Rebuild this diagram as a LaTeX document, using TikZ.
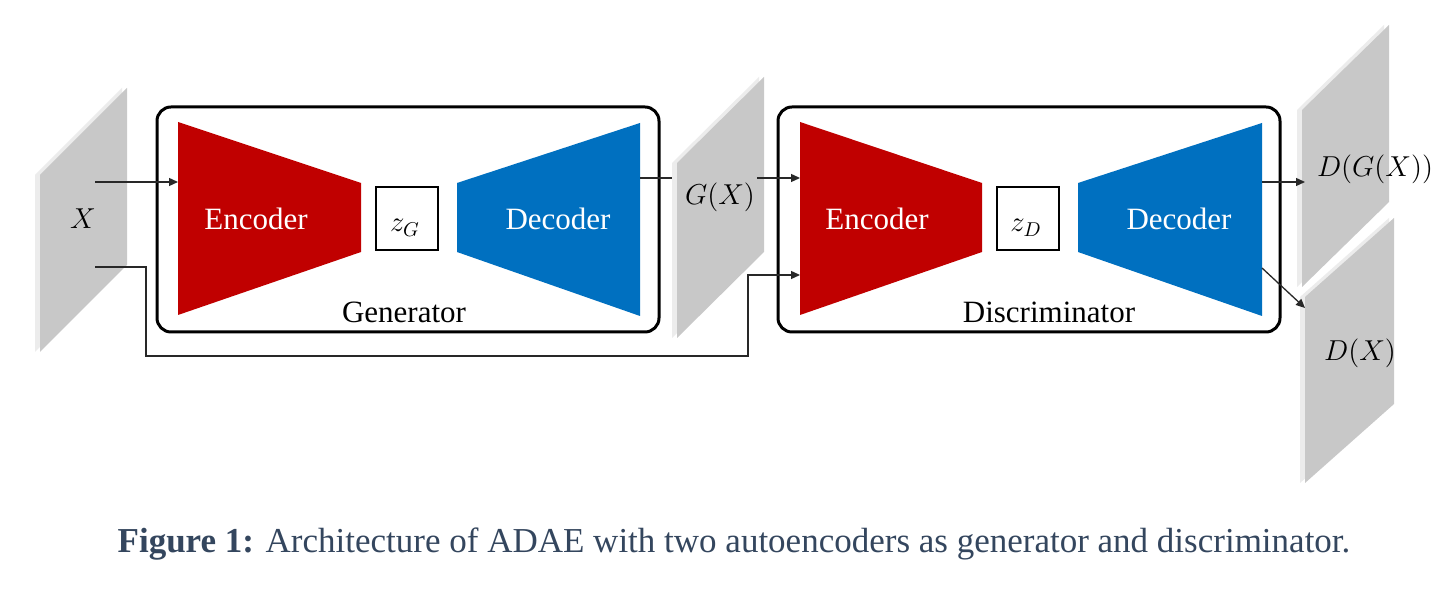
\documentclass[tikz,border=0pt]{standalone}
\usepackage{fontspec}
\setmainfont{Liberation Serif}
\usetikzlibrary{arrows.meta}

\definecolor{encred}{RGB}{192,0,0}
\definecolor{decblue}{RGB}{0,112,192}
\definecolor{planegray}{RGB}{200,200,200}
\definecolor{planeedge}{RGB}{236,236,236}
\definecolor{linegray}{RGB}{40,40,40}
\definecolor{captioncol}{RGB}{52,70,94}

% a slanted data plane: top-left corner (#1,#2), width #3, rise #4, height #5
\newcommand\aeplane[5]{%
  \fill[planeedge] (#1-5,#2) -- ++(#3,-#4) -- ++(0,#5) -- ++(-#3,#4) -- cycle;
  \fill[planegray] (#1,#2) -- ++(#3,-#4) -- ++(0,#5) -- ++(-#3,#4) -- cycle;
}

\begin{document}
\begin{tikzpicture}[x=0.5pt,y=-0.5pt,
  aebox/.style={draw=black,line width=1.5pt,rounded corners=7pt,minimum width=251pt,minimum height=112.5pt,inner sep=0pt},
  zbox/.style={draw=black,line width=0.9pt,minimum width=31pt,minimum height=31.5pt,inner sep=0pt},
  blocklabel/.style={text=white,font=\fontsize{15.5}{18}\selectfont,anchor=base,inner sep=0pt},
  boxlabel/.style={font=\fontsize{15.5}{18}\selectfont,anchor=base,inner sep=0pt},
  mathlabel/.style={font=\fontsize{14}{17}\selectfont,anchor=base,inner sep=0pt},
  conn/.style={draw=linegray,line width=0.65pt},
  arr/.style={conn,-{Triangle[length=4.5pt,width=4pt]}}]

\useasboundingbox (0,0) rectangle (1452,613);
\fill[white] (0,0) rectangle (1452,613);

% data planes
\aeplane{40}{175}{87}{87}{177}
\aeplane{677}{163}{87}{86}{175}
\aeplane{1302}{110}{87}{85}{177}
\aeplane{1305}{297}{89}{79}{186}

% generator and discriminator frames
\node[aebox] (gen) at (408,219.5) {};
\node[aebox] (disc) at (1029,219.5) {};

% generator autoencoder
\fill[encred] (178,122) -- (361,183) -- (361,252) -- (178,315) -- cycle;
\fill[decblue] (457,183) -- (640,123) -- (640,316) -- (457,252) -- cycle;
\node[zbox] (zg) at (407,218.5) {};
% discriminator autoencoder
\fill[encred] (800,122) -- (982,183) -- (982,252) -- (800,315) -- cycle;
\fill[decblue] (1078,183) -- (1262,123) -- (1262,316) -- (1078,252) -- cycle;
\node[zbox] (zd) at (1028,218.5) {};

% texts
\node[blocklabel] (encg) at (256,230) {Encoder};
\node[blocklabel] (decg) at (558,230) {Decoder};
\node[blocklabel] (encd) at (877,230) {Encoder};
\node[blocklabel] (decd) at (1179,230) {Decoder};
\node[mathlabel] (zgl) at (405,232) {$z_G$};
\node[mathlabel] (zdl) at (1026,232) {$z_D$};
\node[boxlabel] (genl) at (404,323) {Generator};
\node[boxlabel] (discl) at (1049,323) {Discriminator};
\node[mathlabel] (xl) at (83,229) {$X$};
\node[mathlabel] (gxl) at (720,205) {$G(X)$};
\node[mathlabel] (dgxl) at (1375,177) {$D(G(X))$};
\node[mathlabel] (dxl) at (1360,361) {$D(X)$};

% connector end points
\coordinate (xout1) at (95,182);
\coordinate (encgin) at (178,182);
\coordinate (xout2) at (95,267);
\coordinate (bendA) at (146,356);
\coordinate (bendB) at (748,356);
\coordinate (encdin2) at (800,275);
\coordinate (decgout) at (640,178);
\coordinate (gxin) at (672,178);
\coordinate (gxout) at (757,178);
\coordinate (encdin1) at (800,178);
\coordinate (decdout1) at (1262,182);
\coordinate (dgxin) at (1305,182);
\coordinate (decdout2) at (1262,268);
\coordinate (dxin) at (1305,308);

% connectors
\draw[arr] (xout1) -- (encgin);
\draw[arr] (xout2) -| (bendA) -- (bendB) |- (encdin2);
\draw[conn] (decgout) -- (gxin);
\draw[arr] (gxout) -- (encdin1);
\draw[arr] (decdout1) -- (dgxin);
\draw[arr] (decdout2) -- (dxin);

% caption
\node[anchor=base,inner sep=0pt,text=captioncol,font=\fontsize{17.5}{21}\selectfont] (cap) at (734,553)
  {\textbf{Figure 1:} Architecture of ADAE with two autoencoders as generator and discriminator.};
\end{tikzpicture}
\end{document}
